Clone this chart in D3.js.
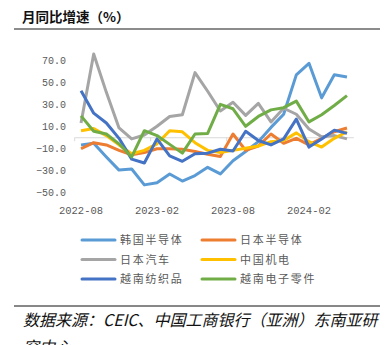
<!DOCTYPE html>
<html><head><meta charset="utf-8">
<script src="https://cdn.jsdelivr.net/npm/d3@7/dist/d3.min.js"></script>
<style>
body{margin:0;background:#fff;}
svg{display:block;}
</style></head>
<body><svg id="c" width="387" height="345"></svg>
<script>
const months = ["2022-08","2022-09","2022-10","2022-11","2022-12","2023-01","2023-02","2023-03","2023-04","2023-05","2023-06","2023-07","2023-08","2023-09","2023-10","2023-11","2023-12","2024-01","2024-02","2024-03","2024-04","2024-05"];
const tickMonths = ["2022-08","2023-02","2023-08","2024-02"];
const yTicks = [70,50,30,10,-10,-30,-50];
const seriesNames = ["韩国半导体","日本半导体","日本汽车","中国机电","越南纺织品","越南电子零件"];
const seriesColors = ["#5B9BD5","#ED7D31","#A5A5A5","#FFC000","#4472C4","#70AD47"];
const krSemi = [-7,-5.5,-18,-30,-29,-43.5,-41.5,-33.5,-40,-35,-27.5,-33.5,-21.5,-13,-4,9,21,57,67.5,36,57,55];
const jpSemi = [-10.5,-5,-7,-12,-16,-14,-10.5,-10.5,-11,-13,-15.5,-17.5,3,-12,-8,3,-5.5,-1,-7,-1,5,8.5];
const jpAuto = [13,76,41,8.5,-1.5,2,10,19,20.5,59,42,24,32,20,31,14,26.5,21,7.5,0.5,1.5,-1.5];
const cnMech = [6,8,1.5,-7,-15,-12,-6,6,5,-5,-12,-14,-12,-10,-8,-4,-3,4,-4,-9,-1,5];
const vnTextile = [42.5,22,13,-1,-20,-23.5,-1.5,-17,-22,-15,-14.5,-11,-12.5,5.5,-3,-7,-1.5,16.5,-9,-1.5,6.5,3.5];
const vnElec = [19.5,5.5,3,-6,-18,6,1.5,-6.5,-14.5,3,3.5,30,26,10,19,25,27,33,14,20.5,29,38];
const seriesData = [krSemi,jpSemi,jpAuto,cnMech,vnTextile,vnElec];

const svg = d3.select("#c");
const x = d3.scaleBand().domain(months).range([74.7,353.3]);
const y = d3.scaleLinear().domain([-50,70]).range([192,60.6]);
const cx = m => x(m) + x.bandwidth()/2;

// title
svg.append("text").attr("x",22).attr("y",22).text("月同比增速（%）")
  .attr("font-family","'Noto Sans CJK SC'").attr("font-size",13.5).attr("font-weight","bold").attr("fill","#111");
svg.append("line").attr("x1",14).attr("x2",380).attr("y1",29).attr("y2",29).attr("stroke","#8c8c8c").attr("stroke-width",2);

// y axis labels
svg.append("g").selectAll("text").data(yTicks).join("text")
  .attr("x",66).attr("y",d=>y(d)).attr("dy","0.35em").attr("text-anchor","end")
  .attr("font-family","'Liberation Mono', monospace").attr("font-size",10).attr("fill","#595959")
  .text(d=>d3.format(".1f")(d));

// zero axis
const ax = svg.append("g").attr("transform",`translate(0,${y(0)})`)
  .call(d3.axisBottom(x).tickValues([]).tickSizeOuter(0));
ax.select(".domain").attr("stroke","#d9d9d9");
svg.append("g").selectAll("line").data(tickMonths).join("line")
  .attr("x1",d=>x(d)).attr("x2",d=>x(d)).attr("y1",y(0)).attr("y2",y(0)+4)
  .attr("stroke","#d9d9d9");

// x labels
svg.append("g").selectAll("text").data(tickMonths).join("text")
  .attr("x",d=>cx(d)).attr("y",214).attr("text-anchor","middle")
  .attr("font-family","'Liberation Mono', monospace").attr("font-size",10.5).attr("fill","#595959")
  .text(d=>d);

// lines
const line = d3.line().x((d,i)=>cx(months[i])).y(d=>y(d));
svg.append("g").selectAll("path").data(seriesData).join("path")
  .attr("d",d=>line(d)).attr("fill","none")
  .attr("stroke",(d,i)=>seriesColors[i]).attr("stroke-width",3).attr("stroke-linejoin","round");

// legend
const lg = svg.append("g");
seriesNames.forEach((n,i)=>{
  const col = i%2, row = Math.floor(i/2);
  const lx = col===0 ? 82 : 202, ly = 240 + row*19.5;
  lg.append("line").attr("x1",lx).attr("x2",lx+33).attr("y1",ly).attr("y2",ly)
    .attr("stroke",seriesColors[i]).attr("stroke-width",3).attr("stroke-linecap","round");
  lg.append("text").attr("x",lx+38).attr("y",ly).attr("dy","0.38em")
    .attr("font-family","'Noto Sans CJK SC'").attr("font-size",11).attr("letter-spacing",1.7)
    .attr("fill","#595959").text(n);
});

// footer
svg.append("line").attr("x1",14).attr("x2",380).attr("y1",306).attr("y2",306).attr("stroke","#111").attr("stroke-width",1);
const ft = svg.append("text").attr("font-family","'Noto Sans CJK SC'").attr("font-size",16)
  .attr("font-style","italic").attr("fill","#111");
ft.append("tspan").attr("x",23).attr("y",326).text("数据来源：CEIC、中国工商银行（亚洲）东南亚研");
ft.append("tspan").attr("x",23).attr("y",353).text("究中心");
</script></body></html>
